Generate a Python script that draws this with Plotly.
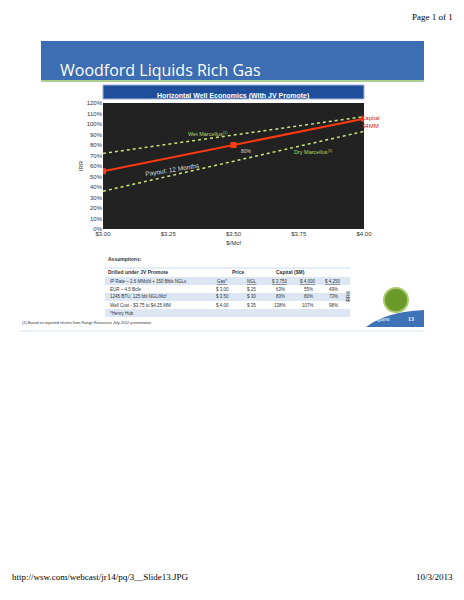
import plotly.graph_objects as go

price = [3.00, 3.50, 4.00]
capital_irr = [55, 80, 105]
wet_x = [3.00, 4.00]
wet_irr = [72, 107]
dry_x = [3.00, 4.00]
dry_irr = [36, 93]
yticks = list(range(0, 121, 10))
xticks = [3.00, 3.25, 3.50, 3.75, 4.00]
xlabels = ["$3.00", "$3.25", "$3.50", "$3.75", "$4.00"]

tbl_rows = [
    ["IP Rate – 2.6 MMcfd + 150 Bbls NGLs", "Gas*", "NGL", "$ 3,750", "$ 4,000", "$ 4,250"],
    ["EUR – 4.5 Bcfe", "$ 3.00", "$ 25", "63%", "55%", "49%"],
    ["1245 BTU, 125 bbl NGL/Mcf", "$ 3.50", "$ 30", "83%", "80%", "73%"],
    ["Well Cost - $3.75 to $4.25 MM", "$ 4.00", "$ 35", "138%", "107%", "98%"],
    ["*Henry Hub", "", "", "", "", ""],
]

OFF = 8
W, H = 464 - 2 * OFF, 600 - 2 * OFF
def px(x): return (x - OFF) / W
def py(y): return 1 - (y - OFF) / H

fig = go.Figure()
fig.add_trace(go.Scatter(x=wet_x, y=wet_irr, mode="lines",
                         line=dict(color="#c8e87a", width=1.5, dash="dot"), showlegend=False))
fig.add_trace(go.Scatter(x=dry_x, y=dry_irr, mode="lines",
                         line=dict(color="#c8e87a", width=1.5, dash="dot"), showlegend=False))
fig.add_trace(go.Scatter(x=price, y=capital_irr, mode="lines+markers",
                         line=dict(color="#ff3a10", width=2),
                         marker=dict(symbol="square", size=6, color="#ff3a10"), showlegend=False))

fig.update_layout(
    width=W, height=H, margin=dict(l=0, r=0, t=0, b=0, autoexpand=False),
    paper_bgcolor="white", plot_bgcolor="#222222",
    font=dict(family="Liberation Sans", size=6, color="#333"),
    xaxis=dict(domain=[px(103), px(364)], range=[3.0, 4.0], tickvals=xticks, ticktext=xlabels,
               showgrid=False, zeroline=False, ticks="", tickfont=dict(size=6), automargin=False,
               title=dict(text="$/Mcf", font=dict(size=6), standoff=4)),
    yaxis=dict(domain=[py(229), py(103)], range=[0, 120], tickvals=yticks, automargin=False,
               ticktext=[f"{v}%" for v in yticks], showgrid=False, zeroline=False, ticks="",
               tickfont=dict(size=6), title=dict(text="IRR", font=dict(size=6), standoff=2)),
)

shapes = [
    dict(type="rect", xref="paper", yref="paper", x0=px(41), x1=px(424), y0=py(80), y1=py(41),
         fillcolor="#3d6db3", line=dict(width=0), layer="below"),
    dict(type="line", xref="paper", yref="paper", x0=px(41), x1=px(424), y0=py(81), y1=py(81),
         line=dict(color="#8fbf6a", width=1.5)),
    dict(type="rect", xref="paper", yref="paper", x0=px(103), x1=px(364), y0=py(99), y1=py(85),
         fillcolor="#1f4f9a", line=dict(color="#9fb5d8", width=1)),
    dict(type="line", xref="paper", yref="paper", x0=px(105), x1=px(350), y0=py(268), y1=py(268),
         line=dict(color="#bcd0e8", width=0.8)),
    dict(type="line", xref="paper", yref="paper", x0=px(20), x1=px(424), y0=py(331), y1=py(331),
         line=dict(color="#bcd0e8", width=0.6)),
    dict(type="circle", xref="paper", yref="paper", x0=px(384), x1=px(408), y0=py(312), y1=py(288),
         fillcolor="#6a9a2a", line=dict(color="#aac86a", width=2)),
    dict(type="path", xref="paper", yref="paper",
         path=f"M {px(366)} {py(327)} Q {px(385)} {py(312)} {px(424)} {py(310)} L {px(424)} {py(327)} Z",
         fillcolor="#3f73b8", line=dict(width=0)),
]
row_y = [281, 289, 297, 305, 313]
for i, ry in enumerate(row_y):
    if i % 2 == 0:
        shapes.append(dict(type="rect", xref="paper", yref="paper", x0=px(105), x1=px(350),
                           y0=py(ry + 4), y1=py(ry - 4), fillcolor="#dde7f4",
                           line=dict(width=0), layer="below"))
fig.update_layout(shapes=shapes)

ann = [
    dict(x=px(455), y=py(10), text="Page 1 of 1", xanchor="right", font=dict(family="Liberation Serif", size=9, color="#000")),
    dict(x=px(10), y=py(584), text="http://wsw.com/webcast/jr14/pq/3__Slide13.JPG", xanchor="left", font=dict(family="Liberation Serif", size=9, color="#000")),
    dict(x=px(455), y=py(584), text="10/3/2013", xanchor="right", font=dict(family="Liberation Serif", size=9, color="#000")),
    dict(x=px(58), y=py(57), text="Woodford Liquids Rich Gas", xanchor="left", font=dict(family="Open Sans", size=16, color="white")),
    dict(x=px(233), y=py(90), text="<b>Horizontal Well Economics (With JV Promote)</b>", font=dict(size=7, color="white")),
    dict(x=px(208), y=py(129), text="Wet Marcellus<sup>(1)</sup>", font=dict(size=5.5, color="#b5d86a")),
    dict(x=px(335), y=py(147), text="Dry Marcellus<sup>(1)</sup>", font=dict(size=5.5, color="#b5d86a")),
    dict(x=px(246), y=py(146), text="80%", font=dict(size=5, color="#ddd")),
    dict(x=px(142), y=py(159), text="Payout: 12 Months", font=dict(size=6.5, color="#ddd"), textangle=-9),
    dict(x=px(382), y=py(113), text="Capital<br>$4MM", font=dict(size=6, color="#d02020")),
    dict(x=px(106), y=py(259), text="<b>Assumptions:</b>", xanchor="left", font=dict(size=5)),
    dict(x=px(106), y=py(272), text="<b>Drilled under JV Promote</b>", xanchor="left", font=dict(size=5)),
    dict(x=px(238), y=py(272), text="<b>Price</b>", font=dict(size=5)),
    dict(x=px(307), y=py(272), text="<b>Capital ($M)</b>", font=dict(size=5)),
    dict(x=px(353), y=py(297), text="IRR%", textangle=-90, font=dict(size=4.5)),
    dict(x=px(20), y=py(323), text="(1) Based on reported returns from Range Resources July 2012 presentation", xanchor="left", font=dict(size=3.8)),
    dict(x=px(392), y=py(319), text="PetroQuest", font=dict(family="Liberation Serif", size=6, color="white")),
    dict(x=px(416), y=py(319), text="<b>13</b>", font=dict(family="Liberation Serif", size=6, color="white")),
]
col_x = [108, 222, 252, 280, 308, 333]
for r, ry in zip(tbl_rows, row_y):
    for j, (cx, t) in enumerate(zip(col_x, r)):
        if not t:
            continue
        txt = f"<u>{t}</u>" if ry == row_y[0] and j > 0 else t
        ann.append(dict(x=px(cx), y=py(ry), text=txt, xanchor="left" if j == 0 else "center",
                        font=dict(size=4.5)))
for a in ann:
    a.update(xref="paper", yref="paper", showarrow=False)
fig.update_layout(annotations=ann)

fig.write_html("out.html")
